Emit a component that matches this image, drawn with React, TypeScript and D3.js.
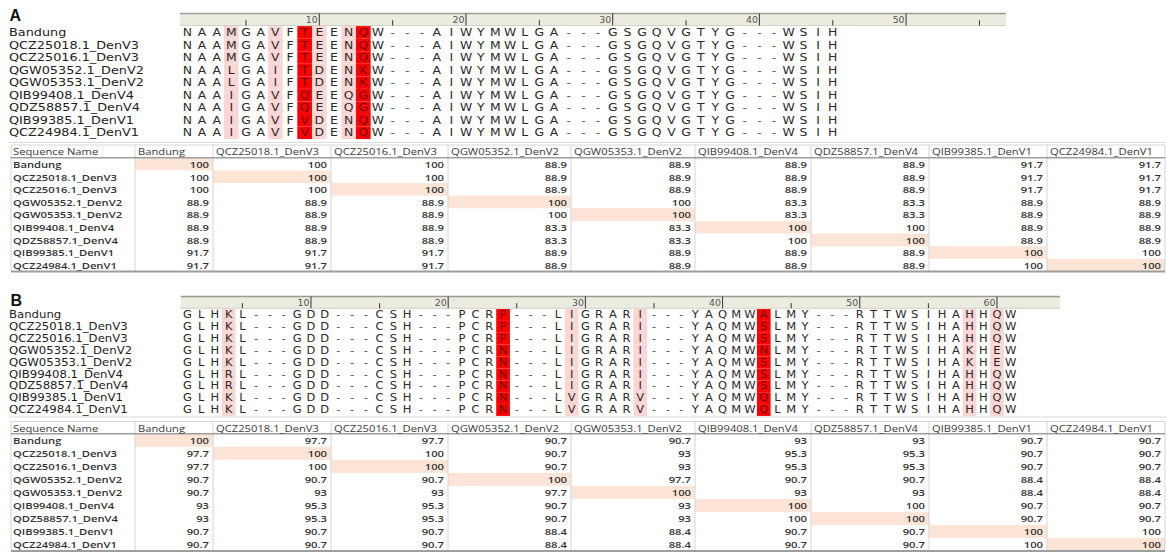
import React from "react";
import * as d3 from "d3";

// ---------- data ----------
const seqNames = [
  "Bandung",
  "QCZ25018.1_DenV3",
  "QCZ25016.1_DenV3",
  "QGW05352.1_DenV2",
  "QGW05353.1_DenV2",
  "QIB99408.1_DenV4",
  "QDZ58857.1_DenV4",
  "QIB99385.1_DenV1",
  "QCZ24984.1_DenV1",
];

const alignA = [
  "NAAMGAVFTEENQW---AIWYMWLGA---GSGQVGTYG---WSIH",
  "NAAMGAVFTEENQW---AIWYMWLGA---GSGQVGTYG---WSIH",
  "NAAMGAVFTEENQW---AIWYMWLGA---GSGQVGTYG---WSIH",
  "NAALGAIFTDENKW---AIWYMWLGA---GSGQVGTYG---WSIH",
  "NAALGAIFTDENKW---AIWYMWLGA---GSGQVGTYG---WSIH",
  "NAAIGAVFQEEQGW---AIWYMWLGA---GSGQVGTYG---WSIH",
  "NAAIGAVFQEEQGW---AIWYMWLGA---GSGQVGTYG---WSIH",
  "NAAIGAVFVDENQW---AIWYMWLGA---GSGQVGTYG---WSIH",
  "NAAIGAVFVDENQW---AIWYMWLGA---GSGQVGTYG---WSIH",
];

const alignB = [
  "GLHKL---GDD---CSH---PCRP---LIGRARI---YAQMWALMY---RTTWSIHAHHQW",
  "GLHKL---GDD---CSH---PCRP---LIGRARI---YAQMWSLMY---RTTWSIHAHHQW",
  "GLHKL---GDD---CSH---PCRP---LIGRARI---YAQMWSLMY---RTTWSIHAHHQW",
  "GLHKL---GDD---CSH---PCRN---LIGRARI---YAQMWNLMY---RTTWSIHAKHEW",
  "GLHKL---GDD---CSH---PCRN---LIGRARI---YAQMWSLMY---RTTWSIHAKHEW",
  "GLHRL---GDD---CSH---PCRN---LIGRARI---YAQMWSLMY---RTTWSIHAHHQW",
  "GLHRL---GDD---CSH---PCRN---LIGRARI---YAQMWSLMY---RTTWSIHAHHQW",
  "GLHKL---GDD---CSH---PCRN---LVGRARV---YAQMWQLMY---RTTWSIHAHHQW",
  "GLHKL---GDD---CSH---PCRN---LVGRARV---YAQMWQLMY---RTTWSIHAHHQW",
];

const pinkColsA = [4, 7, 10, 12];
const redColsA = [9, 13];
const pinkColsB = [4, 29, 34, 58, 60];
const redColsB = [24, 43];

const rulerTicksA = [5, 10, 15, 20, 25, 30, 35, 40, 45, 50, 55];
const rulerTicksB = [5, 10, 15, 20, 25, 30, 35, 40, 45, 50, 55, 60];

const identityA = [
  [100, 100, 100, 88.9, 88.9, 88.9, 88.9, 91.7, 91.7],
  [100, 100, 100, 88.9, 88.9, 88.9, 88.9, 91.7, 91.7],
  [100, 100, 100, 88.9, 88.9, 88.9, 88.9, 91.7, 91.7],
  [88.9, 88.9, 88.9, 100, 100, 83.3, 83.3, 88.9, 88.9],
  [88.9, 88.9, 88.9, 100, 100, 83.3, 83.3, 88.9, 88.9],
  [88.9, 88.9, 88.9, 83.3, 83.3, 100, 100, 88.9, 88.9],
  [88.9, 88.9, 88.9, 83.3, 83.3, 100, 100, 88.9, 88.9],
  [91.7, 91.7, 91.7, 88.9, 88.9, 88.9, 88.9, 100, 100],
  [91.7, 91.7, 91.7, 88.9, 88.9, 88.9, 88.9, 100, 100],
];

const identityB = [
  [100, 97.7, 97.7, 90.7, 90.7, 93, 93, 90.7, 90.7],
  [97.7, 100, 100, 90.7, 93, 95.3, 95.3, 90.7, 90.7],
  [97.7, 100, 100, 90.7, 93, 95.3, 95.3, 90.7, 90.7],
  [90.7, 90.7, 90.7, 100, 97.7, 90.7, 90.7, 88.4, 88.4],
  [90.7, 93, 93, 97.7, 100, 93, 93, 88.4, 88.4],
  [93, 95.3, 95.3, 90.7, 93, 100, 100, 90.7, 90.7],
  [93, 95.3, 95.3, 90.7, 93, 100, 100, 90.7, 90.7],
  [90.7, 90.7, 90.7, 88.4, 88.4, 90.7, 90.7, 100, 100],
  [90.7, 90.7, 90.7, 88.4, 88.4, 90.7, 90.7, 100, 100],
];

const tableCorner = "Sequence Name";

// ---------- layout ----------
const W = 1166;
const H = 552;
const colEdges = [11, 135, 213, 331, 448, 571, 695, 811, 929, 1047, 1165];

const layoutA = {
  label: "A",
  labelX: 9.5,
  labelY: 20.8,
  rulerTop: 13,
  rulerBot: 25.5,
  rulerCols: 56.3,
  colFirst: 187.27,
  colStep: 14.67,
  rowFirst: 32.4,
  rowStep: 12.55,
  nameSize: 10.7,
  nameScale: 1.2,
  seqSize: 10.5,
  seqScale: 1.18,
  sepY: 142.5,
  tableTop: 145,
  headBot: 157.7,
  tableBot: 271.5,
};

const layoutB = {
  label: "B",
  labelX: 10.5,
  labelY: 306.3,
  rulerTop: 296,
  rulerBot: 308.3,
  rulerCols: 64.1,
  colFirst: 187.5,
  colStep: 13.72,
  rowFirst: 315,
  rowStep: 11.875,
  nameSize: 10.1,
  nameScale: 1.16,
  seqSize: 10,
  seqScale: 1.15,
  sepY: 417,
  tableTop: 421.5,
  headBot: 433.8,
  tableBot: 551,
};

const PINK = "#fcd5d5";
const RED = "#ff0000";
const DIAG = "#fce4d6";
const SEQ_FONT = "'DejaVu Sans', Verdana, sans-serif";
const TABLE_FONT = "'Open Sans', 'Noto Sans', sans-serif";
const TABLE_SIZE = 9.2;
const TABLE_SCALE = 1.22;

type Layout = typeof layoutA;

// horizontally stretched text (the reference image is widened)
function SText({
  x,
  y,
  sx,
  anchor = "start",
  size,
  family,
  weight = 400,
  fill,
  children,
}: {
  x: number;
  y: number;
  sx: number;
  anchor?: string;
  size: number;
  family: string;
  weight?: number;
  fill: string;
  children: React.ReactNode;
}) {
  return (
    <text
      transform={`translate(${x},${y}) scale(${sx},1)`}
      x={0}
      y={0}
      dominantBaseline="central"
      textAnchor={anchor}
      fontFamily={family}
      fontWeight={weight}
      fontSize={size}
      fill={fill}
    >
      {children}
    </text>
  );
}

function Panel({
  lay,
  seqs,
  pink,
  red,
  ticks,
  ident,
}: {
  lay: Layout;
  seqs: string[];
  pink: number[];
  red: number[];
  ticks: number[];
  ident: number[][];
}) {
  const x = d3
    .scaleLinear()
    .domain([1, 2])
    .range([lay.colFirst, lay.colFirst + lay.colStep]);
  const y = d3
    .scaleLinear()
    .domain([0, 1])
    .range([lay.rowFirst, lay.rowFirst + lay.rowStep]);
  const tY = d3
    .scaleLinear()
    .domain([0, seqNames.length])
    .range([lay.headBot, lay.tableBot]);
  const rowH = tY(1) - tY(0);
  const rulerX0 = x(0.5);
  const rulerX1 = x(0.5 + lay.rulerCols);
  const redSet = new Set(red);

  return (
    <g>
      {/* panel label */}
      <text
        x={lay.labelX}
        y={lay.labelY}
        fontFamily="'Liberation Sans', Arial, sans-serif"
        fontWeight={700}
        fontSize={16}
        fill="#111"
      >
        {lay.label}
      </text>

      {/* ruler */}
      <rect
        x={rulerX0}
        y={lay.rulerTop}
        width={rulerX1 - rulerX0}
        height={lay.rulerBot - lay.rulerTop}
        fill="#ecebdf"
      />
      <line
        x1={rulerX0}
        x2={rulerX1}
        y1={lay.rulerTop + 0.5}
        y2={lay.rulerTop + 0.5}
        stroke="#9b9b95"
        strokeWidth={1.5}
      />
      <line
        x1={rulerX0}
        x2={rulerX1}
        y1={lay.rulerBot}
        y2={lay.rulerBot}
        stroke="#d2d1c6"
        strokeWidth={1}
      />
      {ticks.map((t) => {
        const major = t % 10 === 0;
        const mid = (lay.rulerTop + lay.rulerBot) / 2;
        return (
          <g key={t}>
            <line
              x1={x(t)}
              x2={x(t)}
              y1={major ? lay.rulerTop + 0.5 : mid + 1}
              y2={lay.rulerBot}
              stroke="#333"
              strokeWidth={1}
            />
            {major && (
              <text
                transform={`translate(${x(t) - 1.5},${lay.rulerBot - 2.3}) scale(1.12,1)`}
                textAnchor="end"
                fontFamily={SEQ_FONT}
                fontSize={8.4}
                fill="#555"
              >
                {t}
              </text>
            )}
          </g>
        );
      })}

      {/* highlighted columns */}
      {seqs.map((s, i) => (
        <g key={"hl" + i}>
          {pink.map((p) => (
            <rect
              key={"p" + p}
              x={x(p) - lay.colStep / 2}
              y={y(i) - lay.rowStep / 2}
              width={lay.colStep}
              height={lay.rowStep}
              fill={PINK}
            />
          ))}
          {red.map((p) => (
            <rect
              key={"r" + p}
              x={x(p) - lay.colStep / 2}
              y={y(i) - lay.rowStep / 2}
              width={lay.colStep}
              height={lay.rowStep}
              fill={RED}
            />
          ))}
        </g>
      ))}

      {/* names and residues */}
      {seqs.map((s, i) => (
        <g key={"row" + i}>
          <SText
            x={9}
            y={y(i)}
            sx={lay.nameScale}
            size={lay.nameSize}
            family={SEQ_FONT}
            fill="#222"
          >
            {seqNames[i]}
          </SText>
          {s.split("").map((ch, j) => (
            <SText
              key={j}
              x={x(j + 1)}
              y={y(i)}
              sx={lay.seqScale}
              anchor="middle"
              size={lay.seqSize}
              family={SEQ_FONT}
              fill={redSet.has(j + 1) ? "#6e0000" : ch === "-" ? "#555" : "#2a2a2a"}
            >
              {ch}
            </SText>
          ))}
        </g>
      ))}

      {/* separator under alignment */}
      <line x1={9} x2={W} y1={lay.sepY} y2={lay.sepY} stroke="#dcdcdc" strokeWidth={1} />

      {/* identity table */}
      {ident.map((row, i) => (
        <rect
          key={"d" + i}
          x={colEdges[i + 1]}
          y={tY(i)}
          width={colEdges[i + 2] - colEdges[i + 1]}
          height={rowH}
          fill={DIAG}
        />
      ))}
      <line
        x1={colEdges[0]}
        x2={colEdges[colEdges.length - 1]}
        y1={lay.tableTop}
        y2={lay.tableTop}
        stroke="#d6d6d6"
      />
      {colEdges.map((cx, k) => (
        <line
          key={"v" + k}
          x1={cx}
          x2={cx}
          y1={lay.tableTop}
          y2={lay.tableBot}
          stroke="#d4d4d4"
          strokeWidth={1}
        />
      ))}
      <line
        x1={colEdges[0]}
        x2={colEdges[colEdges.length - 1]}
        y1={lay.headBot}
        y2={lay.headBot}
        stroke="#9e9e9e"
        strokeWidth={1.6}
      />
      <line
        x1={colEdges[0]}
        x2={colEdges[colEdges.length - 1]}
        y1={lay.tableBot}
        y2={lay.tableBot}
        stroke="#9e9e9e"
        strokeWidth={1.8}
      />
      {[tableCorner, ...seqNames].map((h, c) => (
        <SText
          key={"h" + c}
          x={colEdges[c] + (c === 0 ? 2 : 3)}
          y={(lay.tableTop + lay.headBot) / 2 + 0.3}
          sx={TABLE_SCALE}
          size={TABLE_SIZE}
          family={TABLE_FONT}
          fill="#3a3a3a"
        >
          {h}
        </SText>
      ))}
      {ident.map((row, i) => (
        <g key={"tr" + i}>
          <SText
            x={colEdges[0] + 2}
            y={tY(i) + rowH / 2 + 0.3}
            sx={TABLE_SCALE}
            size={TABLE_SIZE}
            family={TABLE_FONT}
            weight={600}
            fill="#333"
          >
            {seqNames[i]}
          </SText>
          {row.map((v, c) => (
            <SText
              key={c}
              x={colEdges[c + 2] - 4}
              y={tY(i) + rowH / 2 + 0.3}
              sx={TABLE_SCALE}
              anchor="end"
              size={TABLE_SIZE}
              family={TABLE_FONT}
              weight={600}
              fill="#333"
            >
              {String(v)}
            </SText>
          ))}
        </g>
      ))}
    </g>
  );
}

export default function App() {
  return (
    <svg
      width={W}
      height={H}
      viewBox={`0 0 ${W} ${H}`}
      style={{ position: "absolute", left: 0, top: 0, background: "#fff" }}
    >
      <rect x={0} y={0} width={W} height={H} fill="#fff" />
      <Panel
        lay={layoutA}
        seqs={alignA}
        pink={pinkColsA}
        red={redColsA}
        ticks={rulerTicksA}
        ident={identityA}
      />
      <Panel
        lay={layoutB}
        seqs={alignB}
        pink={pinkColsB}
        red={redColsB}
        ticks={rulerTicksB}
        ident={identityB}
      />
    </svg>
  );
}
